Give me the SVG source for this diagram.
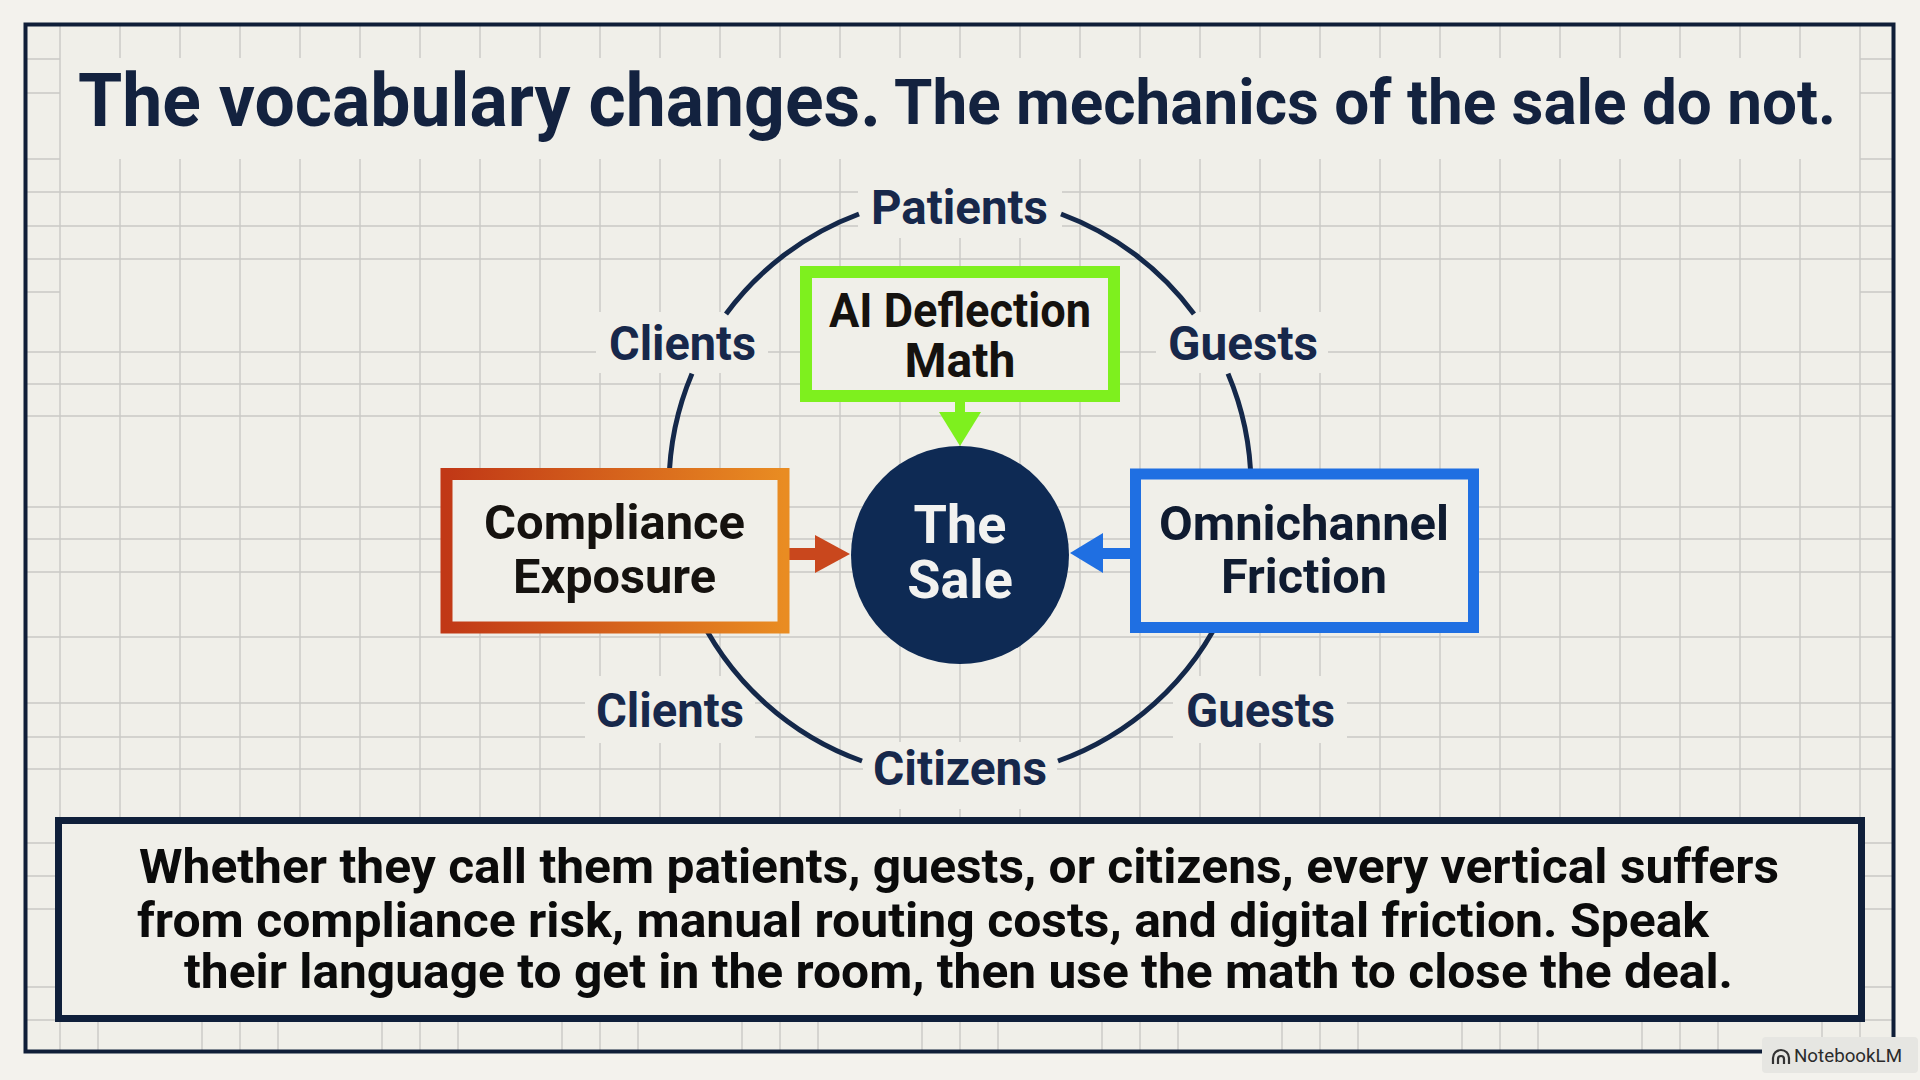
<svg xmlns="http://www.w3.org/2000/svg" width="1920" height="1080" viewBox="0 0 1920 1080">
  <defs>
    <linearGradient id="orangeGrad" x1="0" y1="0" x2="1" y2="0">
      <stop offset="0" stop-color="#c13816"/>
      <stop offset="1" stop-color="#e98c22"/>
    </linearGradient>
    <style>
      .grid { stroke: #c9c9c5; stroke-width: 1.4; fill: none; }
      .bg { fill: #f0efe9; }
      .t { font-family: Roboto, "Liberation Sans", Arial, sans-serif; font-weight: 700; }
      .title { fill: #13223f; }
      .label { fill: #17284b; font-size: 48px; }
      .boxtext { fill: #15120f; font-size: 48px; }
      .ring { stroke: #14284a; stroke-width: 5; fill: none; stroke-linecap: butt; }
      .body { fill: #0b0b0b; font-size: 49px; }
    </style>
  </defs>

  <!-- page background -->
  <rect x="0" y="0" width="1920" height="1080" fill="#f3f2ed"/>
  <rect x="24" y="24" width="1871" height="1029" class="bg"/>

  <!-- grid -->
  <g id="grid">
    <path class="grid" d="M60 24V1052M1860 24V1052
      M120 24V58M120 159V817 M180 24V58M180 159V817 M240 24V58M240 159V817 M300 24V58M300 159V817
      M360 24V58M360 159V817 M420 24V58M420 159V817 M480 24V58M480 159V817 M540 24V58M540 159V817
      M600 24V58M600 159V817 M660 24V58M660 159V817 M720 24V58M720 159V817 M780 24V58M780 159V817
      M840 24V58M840 159V817 M900 24V58M900 159V817 M960 24V58M960 159V817 M1020 24V58M1020 159V817
      M1080 24V58M1080 159V817 M1140 24V58M1140 159V817 M1200 24V58M1200 159V817 M1260 24V58M1260 159V817
      M1320 24V58M1320 159V817 M1380 24V58M1380 159V817 M1440 24V58M1440 159V817 M1500 24V58M1500 159V817
      M1560 24V58M1560 159V817 M1620 24V58M1620 159V817 M1680 24V58M1680 159V817 M1740 24V58M1740 159V817
      M1800 24V58M1800 159V817"/>
    <path class="grid" d="M98 1022V1052 M202 1022V1052 M240 1022V1052 M278 1022V1052 M382 1022V1052 M420 1022V1052 M458 1022V1052
      M562 1022V1052 M600 1022V1052 M638 1022V1052 M742 1022V1052 M780 1022V1052 M818 1022V1052
      M922 1022V1052 M960 1022V1052 M998 1022V1052 M1102 1022V1052 M1140 1022V1052 M1178 1022V1052
      M1282 1022V1052 M1320 1022V1052 M1358 1022V1052 M1462 1022V1052 M1500 1022V1052 M1538 1022V1052
      M1642 1022V1052 M1680 1022V1052 M1718 1022V1052 M1822 1022V1052"/>
    <path class="grid" d="M24 192H1895M24 226H1895M24 259H1895M24 352H1895M24 384H1895M24 416H1895
      M24 507H1895M24 539H1895M24 572H1895M24 637H1895M24 703H1895M24 737H1895M24 769H1895"/>
    <path class="grid" d="M24 59H60M24 93H60M24 159H60M24 292H60M24 843H60M24 876H60M24 909H60M24 987H60M24 1020H60
      M1860 59H1895M1860 93H1895M1860 159H1895M1860 292H1895M1860 843H1895M1860 876H1895M1860 909H1895M1860 987H1895M1860 1020H1895"/>
    <!-- label clearings -->
    <rect class="bg" x="858" y="159" width="204" height="79"/>
    <rect class="bg" x="596" y="312" width="172" height="61"/>
    <rect class="bg" x="1156" y="312" width="172" height="61"/>
    <rect class="bg" x="585" y="676" width="170" height="67"/>
    <rect class="bg" x="1173" y="676" width="174" height="67"/>
    <rect class="bg" x="863" y="742" width="194" height="67"/>
  </g>

  <!-- outer frame -->
  <rect x="25.5" y="24.5" width="1868" height="1027" fill="none" stroke="#0f1e38" stroke-width="4"/>

  <!-- title -->
  <g id="title">
    <text class="t title" x="78" y="126" font-size="75" textLength="803" lengthAdjust="spacingAndGlyphs">The vocabulary changes.</text>
    <text class="t title" x="894" y="124" font-size="63" textLength="942" lengthAdjust="spacingAndGlyphs">The mechanics of the sale do not.</text>
  </g>

  <!-- connectors -->
  <g id="connectors">
    <path class="ring" d="M859 214 A291 291 0 0 0 726 314"/>
    <path class="ring" d="M692 373.6 A291 291 0 0 0 862 761"/>
    <path class="ring" d="M1061 214 A291 291 0 0 1 1194 314"/>
    <path class="ring" d="M1228 373.6 A291 291 0 0 1 1058 761"/>
    <!-- green arrow -->
    <rect x="955" y="400" width="10" height="13" fill="#7ef01e"/>
    <polygon points="939,412 981,412 960,446" fill="#7ef01e"/>
    <!-- orange arrow -->
    <rect x="787" y="548" width="30" height="12" fill="#c9471d"/>
    <polygon points="815,535 850,554 815,573" fill="#c9471d"/>
    <!-- blue arrow -->
    <rect x="1101" y="548" width="31" height="11" fill="#1f6fe2"/>
    <polygon points="1103,533 1070,553 1103,573" fill="#1f6fe2"/>
  </g>

  <!-- ring labels -->
  <g id="label-patients"><text class="t label" x="871" y="224" textLength="177" lengthAdjust="spacingAndGlyphs">Patients</text></g>
  <g id="label-clients-top"><text class="t label" x="609" y="360" textLength="147" lengthAdjust="spacingAndGlyphs">Clients</text></g>
  <g id="label-guests-top"><text class="t label" x="1168" y="360" textLength="150" lengthAdjust="spacingAndGlyphs">Guests</text></g>
  <g id="label-clients-bottom"><text class="t label" x="596" y="727" textLength="148" lengthAdjust="spacingAndGlyphs">Clients</text></g>
  <g id="label-guests-bottom"><text class="t label" x="1186" y="727" textLength="149" lengthAdjust="spacingAndGlyphs">Guests</text></g>
  <g id="label-citizens"><text class="t label" x="873" y="785" textLength="174" lengthAdjust="spacingAndGlyphs">Citizens</text></g>

  <!-- AI Deflection Math -->
  <g id="node-ai-deflection">
    <rect x="806" y="272" width="308" height="124" class="bg" stroke="#7ef01e" stroke-width="12"/>
    <text class="t boxtext" x="829" y="327" font-size="46" textLength="262" lengthAdjust="spacingAndGlyphs">AI Deflection</text>
    <text class="t boxtext" x="960" y="377" font-size="46" text-anchor="middle">Math</text>
  </g>

  <!-- Compliance Exposure -->
  <g id="node-compliance">
    <rect x="446.5" y="474" width="337" height="153.5" class="bg" stroke="url(#orangeGrad)" stroke-width="12"/>
    <text class="t boxtext" x="484" y="539" textLength="261" lengthAdjust="spacingAndGlyphs">Compliance</text>
    <text class="t boxtext" x="513" y="593" textLength="203" lengthAdjust="spacingAndGlyphs">Exposure</text>
  </g>

  <!-- Omnichannel Friction -->
  <g id="node-omnichannel">
    <rect x="1135.5" y="474" width="338" height="153.5" class="bg" stroke="#1f6fe2" stroke-width="11"/>
    <text class="t boxtext" x="1159" y="540" style="fill:#0f1b30" textLength="290" lengthAdjust="spacingAndGlyphs">Omnichannel</text>
    <text class="t boxtext" x="1221" y="593" style="fill:#0f1b30" textLength="166" lengthAdjust="spacingAndGlyphs">Friction</text>
  </g>

  <!-- The Sale -->
  <g id="node-sale">
    <circle cx="960" cy="555" r="109" fill="#0e2a54"/>
    <text class="t" x="960" y="543" font-size="54" fill="#f2f2f0" text-anchor="middle">The</text>
    <text class="t" x="960" y="598" font-size="54" fill="#f2f2f0" text-anchor="middle">Sale</text>
  </g>

  <!-- bottom summary -->
  <g id="summary">
    <rect x="58.5" y="820.5" width="1803" height="198" class="bg" stroke="#0f1f3a" stroke-width="7"/>
    <text class="t body" x="139" y="883" textLength="1640" lengthAdjust="spacingAndGlyphs">Whether they call them patients, guests, or citizens, every vertical suffers</text>
    <text class="t body" x="137" y="937" textLength="1572" lengthAdjust="spacingAndGlyphs">from compliance risk, manual routing costs, and digital friction. Speak</text>
    <text class="t body" x="184" y="988" textLength="1549" lengthAdjust="spacingAndGlyphs">their language to get in the room, then use the math to close the deal.</text>
  </g>

  <!-- watermark -->
  <g id="watermark">
    <rect x="1762" y="1037" width="156" height="36" rx="4" fill="#e6e6e2"/>
    <path d="M1773 1064 V1058 A8 8 0 0 1 1789 1058 V1064 M1778 1064 V1059 A3 3 0 0 1 1784 1059 V1064" fill="none" stroke="#333" stroke-width="2.2"/>
    <text x="1794" y="1062" font-family="Roboto, 'Liberation Sans', Arial, sans-serif" font-size="18" fill="#2b2b2b" textLength="108" lengthAdjust="spacingAndGlyphs">NotebookLM</text>
  </g>
</svg>
